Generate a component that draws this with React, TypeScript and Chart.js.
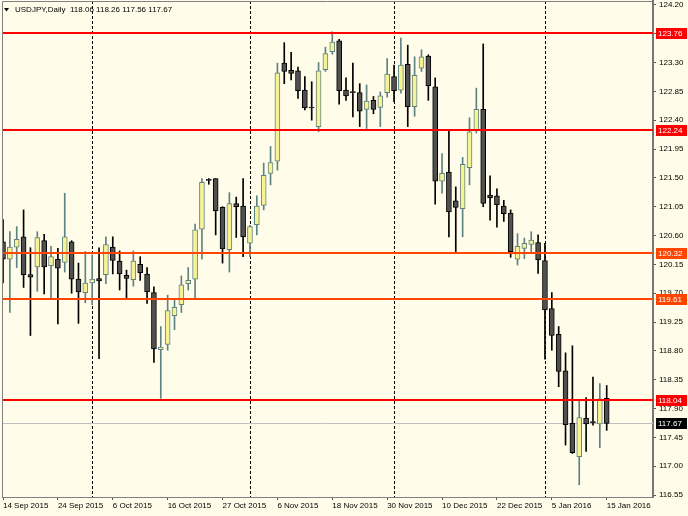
import React, { useEffect, useRef } from "react";
import { Chart, registerables } from "chart.js";

Chart.register(...registerables);

const dates = [
  "14 Sep 2015","15 Sep 2015","16 Sep 2015","17 Sep 2015","18 Sep 2015","21 Sep 2015","22 Sep 2015","23 Sep 2015","24 Sep 2015","25 Sep 2015","28 Sep 2015","29 Sep 2015","30 Sep 2015",
  "1 Oct 2015","2 Oct 2015","5 Oct 2015","6 Oct 2015","7 Oct 2015","8 Oct 2015","9 Oct 2015","12 Oct 2015","13 Oct 2015","14 Oct 2015","15 Oct 2015","16 Oct 2015","19 Oct 2015","20 Oct 2015","21 Oct 2015","22 Oct 2015","23 Oct 2015","25 Oct 2015","26 Oct 2015","27 Oct 2015","28 Oct 2015","29 Oct 2015","30 Oct 2015",
  "2 Nov 2015","3 Nov 2015","4 Nov 2015","5 Nov 2015","6 Nov 2015","9 Nov 2015","10 Nov 2015","11 Nov 2015","12 Nov 2015","13 Nov 2015","16 Nov 2015","17 Nov 2015","18 Nov 2015","19 Nov 2015","20 Nov 2015","23 Nov 2015","24 Nov 2015","25 Nov 2015","26 Nov 2015","27 Nov 2015","30 Nov 2015",
  "1 Dec 2015","2 Dec 2015","3 Dec 2015","4 Dec 2015","7 Dec 2015","8 Dec 2015","9 Dec 2015","10 Dec 2015","11 Dec 2015","14 Dec 2015","15 Dec 2015","16 Dec 2015","17 Dec 2015","18 Dec 2015","21 Dec 2015","22 Dec 2015","23 Dec 2015","24 Dec 2015","28 Dec 2015","29 Dec 2015","30 Dec 2015","31 Dec 2015",
  "4 Jan 2016","5 Jan 2016","6 Jan 2016","7 Jan 2016","8 Jan 2016","11 Jan 2016","12 Jan 2016","13 Jan 2016","14 Jan 2016","15 Jan 2016",
];

const opens = [
  120.50,120.23,120.42,120.58,119.99,120.11,120.52,120.13,120.23,120.18,120.50,119.92,119.71,
  119.86,119.93,119.99,120.42,120.20,119.98,119.91,120.15,120.00,119.71,118.82,118.90,119.35,119.52,119.85,119.92,120.70,121.47,121.49,121.04,120.38,121.10,121.06,
  120.48,120.77,121.07,121.57,121.76,123.29,123.18,123.17,122.87,122.60,122.30,123.19,123.47,123.64,122.87,122.84,122.83,122.57,122.71,122.60,122.83,
  123.08,122.87,123.27,122.61,123.21,123.40,122.92,121.45,121.59,121.14,121.02,121.66,122.25,122.57,121.23,121.22,121.06,120.95,120.23,120.40,120.46,120.49,
  120.21,119.46,119.06,118.49,117.67,117.15,117.75,117.69,117.66,118.06,
];
const highs = [
  120.85,120.66,120.74,121.00,120.41,120.66,120.62,120.43,120.40,121.26,120.52,120.17,120.35,
  120.30,120.41,120.58,120.58,120.36,120.06,120.36,120.27,120.10,119.80,119.18,119.67,119.61,119.97,120.10,120.78,121.49,121.49,121.49,121.05,121.27,121.20,121.49,
  120.76,121.22,121.73,121.99,123.29,123.61,123.46,123.23,123.08,123.00,123.30,123.54,123.78,123.66,123.06,123.29,122.97,122.95,122.77,122.84,123.36,
  123.26,123.68,123.57,123.39,123.50,123.42,123.06,121.88,122.25,121.36,121.82,122.44,122.90,123.59,121.53,121.33,121.15,121.00,120.63,120.56,120.66,120.61,
  120.48,119.71,119.18,118.77,118.88,118.03,118.07,118.39,118.29,118.26,
];
const lows = [
  119.86,119.40,120.10,119.79,119.04,119.73,119.69,119.62,119.22,120.03,119.70,119.23,119.55,
  119.52,118.68,119.85,120.00,119.75,119.62,119.81,119.90,119.54,118.62,118.06,118.81,119.13,119.40,119.75,119.62,120.23,121.40,120.61,120.17,120.03,120.57,120.27,
  120.27,120.61,121.00,121.39,121.62,122.97,123.03,122.74,122.56,122.40,122.22,123.16,123.43,122.65,122.71,122.45,122.30,122.27,122.50,122.30,122.76,
  122.69,122.82,122.30,122.46,123.16,122.71,121.09,121.26,120.58,120.35,120.58,121.39,122.20,121.05,120.84,120.73,120.82,120.26,120.14,120.24,120.35,120.01,
  118.67,118.81,118.24,117.33,117.20,116.71,117.23,117.64,117.29,117.56,
];
const closes = [
  120.23,120.42,120.54,119.99,119.95,120.57,120.11,120.27,120.09,120.58,119.92,119.72,119.86,
  119.92,119.89,120.46,120.21,120.00,119.93,120.20,120.02,119.72,118.83,118.86,119.43,119.48,119.83,119.90,120.69,121.43,121.46,120.99,120.39,121.10,121.05,120.58,
  120.74,121.06,121.54,121.74,123.14,123.16,123.13,122.86,122.59,122.59,123.17,123.44,123.62,122.86,122.78,122.83,122.54,122.70,122.57,122.78,123.12,
  122.86,123.26,122.61,123.10,123.39,122.94,121.45,121.57,120.97,121.04,121.71,122.22,122.57,121.10,121.19,121.08,120.94,120.35,120.43,120.48,120.53,120.22,
  119.44,119.04,118.48,117.65,117.21,117.76,117.66,117.68,118.05,117.67,
];

const xTickIdx = [0, 8, 16, 24, 32, 40, 48, 56, 64, 72, 80, 88];
const yTicks = [116.55, 117.0, 117.45, 117.9, 118.35, 118.8, 119.25, 119.7, 120.15, 120.6, 121.05, 121.5, 121.95, 122.4, 122.85, 123.3, 123.75, 124.2];
const levels = [123.76, 122.24, 120.32, 119.61, 118.04];
const levelColors = ["#FF0000", "#FF0000", "#FF4500", "#FF4500", "#FF0000"];
const bidPrice = 117.67;
const title = "USDJPY,Daily  118.06 118.26 117.56 117.67";

const BG = "#FFFDE9";
const BULL_FILL = "#F7F394";
const BULL_LINE = "#5E8282";
const BEAR_FILL = "#505050";
const BEAR_LINE = "#000000";
const FONT = "Liberation Sans";

export default function App() {
  const ref = useRef<HTMLCanvasElement | null>(null);

  useEffect(() => {
    const canvas = ref.current;
    if (!canvas) return;
    const bull = opens.map((o, i) => closes[i] >= o);
    const separators: number[] = [];
    for (let i = 1; i < dates.length; i++) {
      if (dates[i].split(" ")[1] !== dates[i - 1].split(" ")[1]) separators.push(i);
    }

    const overlay = {
      id: "overlay",
      beforeDraw(chart: any) {
        const ctx = chart.ctx;
        ctx.save();
        ctx.fillStyle = BG;
        ctx.fillRect(0, 0, chart.width, chart.height);
        ctx.restore();
      },
      beforeDatasetsDraw(chart: any) {
        const ctx = chart.ctx;
        const a = chart.chartArea;
        const xs = chart.scales.x;
        const ys = chart.scales.y;
        ctx.save();
        ctx.beginPath();
        ctx.rect(a.left, a.top, a.right - a.left, a.bottom - a.top);
        ctx.clip();
        ctx.strokeStyle = "#000";
        ctx.lineWidth = 1;
        ctx.setLineDash([3, 2]);
        separators.forEach((i) => {
          const x = Math.round(xs.getPixelForValue(i)) + 0.5;
          ctx.beginPath();
          ctx.moveTo(x, a.top);
          ctx.lineTo(x, a.bottom);
          ctx.stroke();
        });
        ctx.setLineDash([]);
        const yb = Math.round(ys.getPixelForValue(bidPrice)) + 0.5;
        ctx.strokeStyle = "#C0C0C0";
        ctx.beginPath();
        ctx.moveTo(a.left, yb);
        ctx.lineTo(a.right, yb);
        ctx.stroke();
        ctx.restore();
      },
      afterDatasetsDraw(chart: any) {
        const ctx = chart.ctx;
        const a = chart.chartArea;
        const ys = chart.scales.y;
        ctx.save();
        ctx.lineWidth = 2;
        levels.forEach((lv, k) => {
          const y = Math.round(ys.getPixelForValue(lv));
          ctx.strokeStyle = levelColors[k];
          ctx.beginPath();
          ctx.moveTo(a.left, y);
          ctx.lineTo(a.right, y);
          ctx.stroke();
        });
        ctx.restore();
      },
      afterDraw(chart: any) {
        const ctx = chart.ctx;
        const a = chart.chartArea;
        const ys = chart.scales.y;
        ctx.save();
        ctx.strokeStyle = "#808080";
        ctx.lineWidth = 1;
        ctx.beginPath();
        ctx.moveTo(a.left + 0.5, a.bottom);
        ctx.lineTo(a.left + 0.5, a.top + 0.5);
        ctx.lineTo(a.right, a.top + 0.5);
        ctx.stroke();
        ctx.font = `8px "${FONT}"`;
        ctx.textBaseline = "middle";
        ctx.textAlign = "left";
        const box = (price: number, color: string) => {
          const y = Math.round(ys.getPixelForValue(price));
          ctx.fillStyle = color;
          ctx.fillRect(a.right + 3, y - 5, 31, 11);
          ctx.fillStyle = "#FFFFFF";
          ctx.fillText(price.toFixed(2), a.right + 5, y + 0.5);
        };
        levels.forEach((lv, k) => box(lv, levelColors[k]));
        box(bidPrice, "#000000");
        ctx.fillStyle = "#000";
        ctx.beginPath();
        ctx.moveTo(4, 8);
        ctx.lineTo(9, 8);
        ctx.lineTo(6.5, 11.5);
        ctx.closePath();
        ctx.fill();
        ctx.textBaseline = "middle";
        ctx.fillText(title, 15, 9.5);
        ctx.restore();
      },
    };

    const chart = new Chart(canvas, {
      type: "bar",
      data: {
        datasets: [
          {
            label: "body",
            data: opens.map((o, i) => ({ x: i, y: [o, closes[i]] })) as any,
            backgroundColor: bull.map((b) => (b ? BULL_FILL : BEAR_FILL)),
            borderColor: bull.map((b) => (b ? BULL_LINE : BEAR_LINE)),
            borderWidth: 1,
            borderSkipped: false,
            barThickness: 5,
            minBarLength: 1,
            grouped: false,
            order: 0,
            clip: 0,
          } as any,
          {
            label: "wick",
            data: highs.map((h, i) => ({ x: i, y: [lows[i], h] })) as any,
            backgroundColor: bull.map((b) => (b ? BULL_LINE : BEAR_LINE)),
            borderWidth: 0,
            barThickness: 1,
            grouped: false,
            order: 1,
            clip: 0,
          } as any,
        ],
      },
      options: {
        animation: false,
        responsive: false,
        maintainAspectRatio: false,
        layout: { padding: { left: 2, top: 1, right: 0, bottom: 0 } },
        plugins: { legend: { display: false }, tooltip: { enabled: false } },
        scales: {
          x: {
            type: "linear",
            position: "bottom",
            offset: false,
            min: -0.146,
            max: 94.75,
            afterBuildTicks: (s: any) => {
              s.ticks = xTickIdx.map((v) => ({ value: v }));
            },
            afterFit: (s: any) => {
              s.height = 19;
              s.paddingLeft = 0;
              s.paddingRight = 0;
            },
            ticks: {
              autoSkip: false,
              maxRotation: 0,
              minRotation: 0,
              align: "start",
              padding: 1,
              color: "#000",
              font: { family: FONT, size: 8 },
              callback: (v: any) => dates[v as number] ?? "",
            },
            grid: { offset: false, drawOnChartArea: false, drawTicks: true, tickLength: 3, color: "#555" },
            border: { color: "#808080", width: 1 },
          } as any,
          y: {
            type: "linear",
            position: "right",
            min: 116.52,
            max: 124.26,
            afterBuildTicks: (s: any) => {
              s.ticks = yTicks.map((v) => ({ value: v }));
            },
            afterFit: (s: any) => {
              s.width = 35;
              s.paddingTop = 0;
              s.paddingBottom = 0;
            },
            ticks: {
              padding: 3,
              crossAlign: "near",
              color: "#000",
              font: { family: FONT, size: 8 },
              callback: (v: any) => Number(v).toFixed(2),
            },
            grid: { drawOnChartArea: false, drawTicks: true, tickLength: 3, color: "#555" },
            border: { color: "#777777", width: 2 },
          } as any,
        },
      },
      plugins: [overlay],
    });
    return () => chart.destroy();
  }, []);

  return (
    <div style={{ position: "fixed", left: 0, top: 0, width: 688, height: 516, background: BG }}>
      <canvas ref={ref} width={688} height={516} style={{ display: "block" }} />
    </div>
  );
}
